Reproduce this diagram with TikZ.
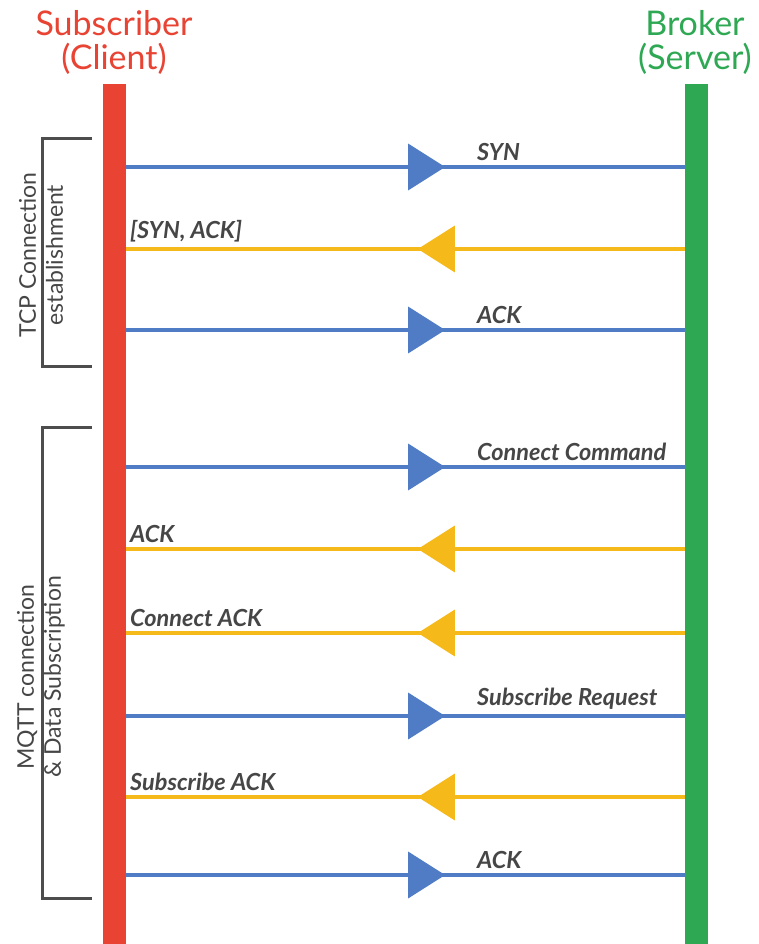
\documentclass[tikz,border=0pt]{standalone}
\usepackage{fontspec}
\setmainfont{Lato}
\usetikzlibrary{arrows.meta,decorations.markings}
\definecolor{clientred}{HTML}{E84333}
\definecolor{servergreen}{HTML}{2EA853}
\definecolor{msgblue}{HTML}{4F7CC4}
\definecolor{msgyellow}{HTML}{F6B91A}
\definecolor{labelgray}{HTML}{464646}
\definecolor{bracketgray}{HTML}{4D4D4D}
\tikzset{
  title/.style={font=\fontsize{34}{34}\selectfont, align=center, inner sep=0pt},
  lifeline/.style={draw=none, minimum width=23pt, inner sep=0pt, anchor=north},
  msgline/.style={line width=3.5pt},
  request/.style={msgline, msgblue, postaction={decorate}, decoration={markings,
      mark=at position 0.571 with {\arrow{Triangle[length=37pt,width=46pt]}}}},
  reply/.style={msgline, msgyellow, postaction={decorate}, decoration={markings,
      mark=at position 0.478 with {\arrow{Triangle[length=37pt,width=46pt]}}}},
  msglabel/.style={font=\fontsize{23.5}{24}\selectfont\bfseries\itshape, text=labelgray,
      inner sep=0pt, anchor=south west},
  phase/.style={draw=bracketgray, line width=3pt},
  phaselabel/.style={font=\fontsize{23}{27}\selectfont, text=labelgray, align=center,
      rotate=90, inner sep=0pt}
}
\begin{document}
\begin{tikzpicture}[x=1pt,y=-1pt]
  \useasboundingbox[fill=white] (0,0) rectangle (758,944);

  % participants
  \node[title, text=clientred] (clienttitle) at (114,42) {Subscriber\\(Client)};
  \node[title, text=servergreen] (servertitle) at (695,42) {Broker\\(Server)};

  % lifelines
  \node[lifeline, fill=clientred, minimum height=860pt] (client) at (114.5,84) {};
  \node[lifeline, fill=servergreen, minimum height=860pt] (server) at (696.5,84) {};

  % message end points on the lifelines
  \foreach \n/\y in {1/167,2/249,3/330,4/467,5/549,6/633,7/716,8/797,9/875}{
    \coordinate (c\n) at (client.north east |- 0,\y);
    \coordinate (s\n) at (server.north west |- 0,\y);
  }

  % TCP handshake
  \draw[request] (c1) -- (s1);
  \draw[reply]   (s2) -- (c2);
  \draw[request] (c3) -- (s3);
  % MQTT connection and subscription
  \draw[request] (c4) -- (s4);
  \draw[reply]   (s5) -- (c5);
  \draw[reply]   (s6) -- (c6);
  \draw[request] (c7) -- (s7);
  \draw[reply]   (s8) -- (c8);
  \draw[request] (c9) -- (s9);

  % message labels
  \node[msglabel] (l1) at (477,161) {SYN};
  \node[msglabel] (l2) at (130,242) {[SYN, ACK]};
  \node[msglabel] (l3) at (477,324) {ACK};
  \node[msglabel] (l4) at (477,461) {Connect Command};
  \node[msglabel] (l5) at (130,543) {ACK};
  \node[msglabel] (l6) at (130,627) {Connect ACK};
  \node[msglabel] (l7) at (477,710) {Subscribe Request};
  \node[msglabel] (l8) at (130,791) {Subscribe ACK};
  \node[msglabel] (l9) at (477,869) {ACK};

  % phase brackets
  \draw[phase] (92,139) -- (42,139) -- (42,366) -- (92,366);
  \draw[phase] (92,427) -- (42,427) -- (42,898) -- (92,898);
  \node[phaselabel] (p1) at (41,255) {TCP Connection\\establishment};
  \node[phaselabel] (p2) at (41,677) {MQTT connection\\\& Data Subscription};
\end{tikzpicture}
\end{document}
